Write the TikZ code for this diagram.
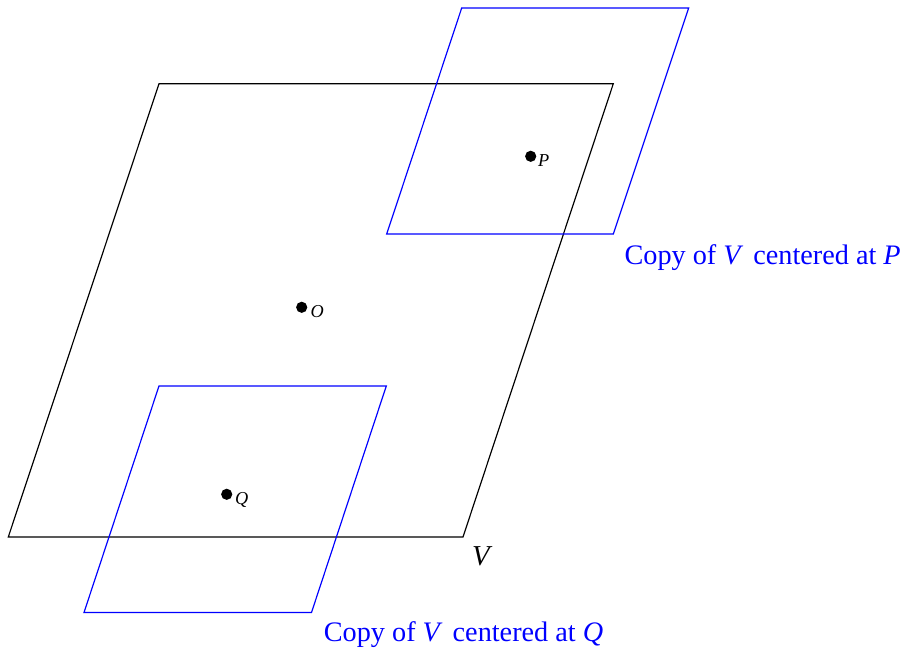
\documentclass[tikz,border=0pt]{standalone}
\usepackage{fontspec}
\setmainfont{Liberation Serif}
\begin{document}
\begin{tikzpicture}[x=0.34pt,y=-0.34pt,
  dot/.style={circle,fill=black,inner sep=0pt,minimum size=3.8pt},
  lbl/.style={inner sep=0pt,anchor=base west,font=\fontsize{6.2}{7}\selectfont\itshape},
  captext/.style={inner sep=0pt,anchor=base west,text=blue,font=\fontsize{9.6}{12}\selectfont},
  region/.style={line width=0.4pt,line join=miter},
  copyregion/.style={region,draw=blue}]
\useasboundingbox (0,0) rectangle (905,650);
% big parallelogram V
\coordinate (v1) at (8.3,537);
\coordinate (v2) at (463,537);
\coordinate (v3) at (613.3,83.7);
\coordinate (v4) at (159,83.7);
\draw[region] (v1) -- (v2) -- (v3) -- (v4) -- cycle;
% copy at P
\coordinate (p1) at (386.7,234);
\coordinate (p2) at (613.3,234);
\coordinate (p3) at (688.7,8);
\coordinate (p4) at (461.7,8);
\draw[copyregion] (p1) -- (p2) -- (p3) -- (p4) -- cycle;
% copy at Q
\coordinate (q1) at (84,612.5);
\coordinate (q2) at (311.5,612.5);
\coordinate (q3) at (386.3,386);
\coordinate (q4) at (159,386);
\draw[copyregion] (q1) -- (q2) -- (q3) -- (q4) -- cycle;
% points
\node[dot] (P) at (530.7,156.3) {};
\node[dot] (O) at (301.7,307.3) {};
\node[dot] (Q) at (226.7,494.3) {};
\node[lbl] (Plbl) at (537.5,166.8) {P};
\node[lbl] (Olbl) at (310,317.3) {O};
\node[lbl] (Qlbl) at (234.5,505) {Q};
% labels
\node[inner sep=0pt,anchor=base west,font=\fontsize{9.8}{12}\selectfont\itshape] (Vlbl) at (471.5,566) {V};
\node[captext] (capP) at (624,264.3) {Copy of \textit{V}\kern1pt\ centered at \textit{P}};
\node[captext] (capQ) at (323.3,641.7) {Copy of \textit{V}\kern1pt\ centered at \textit{Q}};
\end{tikzpicture}
\end{document}
